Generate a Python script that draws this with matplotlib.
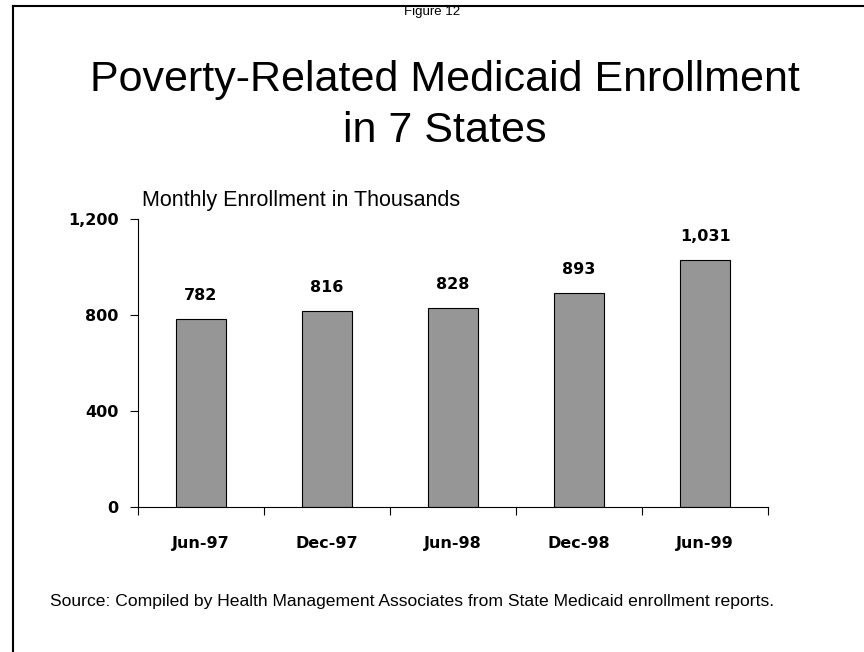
import matplotlib.pyplot as plt
from matplotlib.lines import Line2D
from matplotlib.ticker import FixedLocator, FuncFormatter

plt.rcParams["font.family"] = ["Liberation Sans", "DejaVu Sans"]

periods = ["Jun-97", "Dec-97", "Jun-98", "Dec-98", "Jun-99"]
enrollment = [782, 816, 828, 893, 1031]
y_ticks = [0, 400, 800, 1200]

BOLD = dict(family="DejaVu Sans", fontweight="bold", fontsize=11.5)

fig = plt.figure(figsize=(8.64, 6.52), dpi=100)
ax = fig.add_axes([0.1597, 0.2224, 0.7292, 0.4417])

x = range(len(periods))
ax.bar(x, enrollment, width=0.4, color="#969696", edgecolor="black", linewidth=0.8)

for xi, v in zip(x, enrollment):
    ax.annotate(f"{v:,}", (xi, v), xytext=(0, 11.5), textcoords="offset points",
                ha="center", va="bottom", **BOLD)

ax.set_xlim(-0.5, len(periods) - 0.5)
ax.set_ylim(0, 1200)
ax.set_yticks(y_ticks)
ax.yaxis.set_major_formatter(FuncFormatter(lambda v, _: f"{int(v):,}"))
ax.set_xticks(list(x))
ax.set_xticklabels(periods)
ax.xaxis.set_minor_locator(FixedLocator([i - 0.5 for i in range(len(periods) + 1)]))
ax.tick_params(axis="x", which="major", length=0, pad=21)
ax.tick_params(axis="x", which="minor", length=6, width=0.8, direction="out")
ax.tick_params(axis="y", length=6, width=0.8, pad=8)
for lbl in ax.get_xticklabels() + ax.get_yticklabels():
    lbl.set_family(BOLD["family"])
    lbl.set_fontsize(BOLD["fontsize"])
    lbl.set_fontweight("bold")

for side in ("top", "right"):
    ax.spines[side].set_visible(False)
for side in ("left", "bottom"):
    ax.spines[side].set_linewidth(0.8)

ax.text(0.007, 1.027, "Monthly Enrollment in Thousands", transform=ax.transAxes,
        fontsize=15.5, ha="left", va="bottom")

fig.text(0.5, 0.982, "Figure 12", ha="center", va="center", fontsize=9.5)
fig.text(0.515, 0.8604, "Poverty-Related Medicaid Enrollment", ha="center",
         va="baseline", fontsize=31)
fig.text(0.515, 0.7822, "in 7 States", ha="center", va="baseline", fontsize=31)

fig.text(0.058, 0.077, "Source: Compiled by Health Management Associates from "
         "State Medicaid enrollment reports.", ha="left", va="center", fontsize=12.6)

# outer frame: left and top edges only
fig.add_artist(Line2D([0.015, 0.015], [0.0, 0.991], transform=fig.transFigure,
                      color="black", linewidth=1.5))
fig.add_artist(Line2D([0.015, 1.0], [0.991, 0.991], transform=fig.transFigure,
                      color="black", linewidth=1.5))

fig.savefig("out.png", dpi=100, facecolor="white")
